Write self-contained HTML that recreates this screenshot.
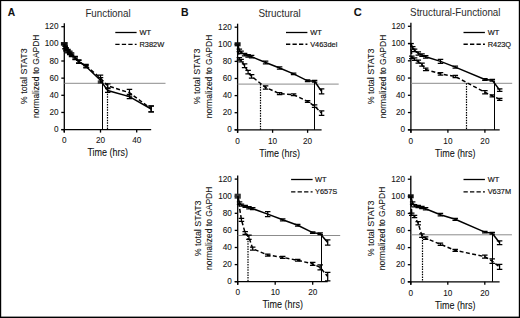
<!DOCTYPE html>
<html><head><meta charset="utf-8"><style>
html,body{margin:0;padding:0;background:#fff;}
body{width:520px;height:318px;overflow:hidden;}
svg{display:block;}
text{font-family:"Liberation Sans", sans-serif;fill:#111;stroke:#111;stroke-width:0.08px;}
</style></head><body>
<svg width="520" height="318" viewBox="0 0 520 318">
<rect x="0" y="0" width="520" height="318" fill="#fff"/>
<text x="7.7" y="15.5" font-size="11.4" font-weight="bold" textLength="7.4" lengthAdjust="spacingAndGlyphs">A</text>
<text x="181.1" y="15.6" font-size="11.4" font-weight="bold" textLength="7.6" lengthAdjust="spacingAndGlyphs">B</text>
<text x="353.7" y="15.7" font-size="11.4" font-weight="bold" textLength="8" lengthAdjust="spacingAndGlyphs">C</text>
<text x="108" y="16.5" text-anchor="middle" font-size="10.6" textLength="45.2" lengthAdjust="spacingAndGlyphs" style="fill:#2a2a2a;stroke:none">Functional</text>
<text x="279.6" y="16.6" text-anchor="middle" font-size="10.6" textLength="42.4" lengthAdjust="spacingAndGlyphs" style="fill:#2a2a2a;stroke:none">Structural</text>
<text x="455.3" y="16.4" text-anchor="middle" font-size="10.6" textLength="90.4" lengthAdjust="spacingAndGlyphs" style="fill:#2a2a2a;stroke:none">Structural-Functional</text>
<line x1="64.3" y1="23.2" x2="64.3" y2="132.6" stroke="#000" stroke-width="1.3"/>
<line x1="61.3" y1="129.6" x2="151.18" y2="129.6" stroke="#000" stroke-width="1.3"/>
<line x1="61.3" y1="129.6" x2="64.3" y2="129.6" stroke="#000" stroke-width="1.3"/>
<text x="58.5" y="132.2" text-anchor="end" font-size="8.9" textLength="4.56" lengthAdjust="spacingAndGlyphs">0</text>
<line x1="61.3" y1="112.45" x2="64.3" y2="112.45" stroke="#000" stroke-width="1.3"/>
<text x="58.5" y="115.05" text-anchor="end" font-size="8.9" textLength="9.12" lengthAdjust="spacingAndGlyphs">20</text>
<line x1="61.3" y1="95.3" x2="64.3" y2="95.3" stroke="#000" stroke-width="1.3"/>
<text x="58.5" y="97.9" text-anchor="end" font-size="8.9" textLength="9.12" lengthAdjust="spacingAndGlyphs">40</text>
<line x1="61.3" y1="78.15" x2="64.3" y2="78.15" stroke="#000" stroke-width="1.3"/>
<text x="58.5" y="80.75" text-anchor="end" font-size="8.9" textLength="9.12" lengthAdjust="spacingAndGlyphs">60</text>
<line x1="61.3" y1="61" x2="64.3" y2="61" stroke="#000" stroke-width="1.3"/>
<text x="58.5" y="63.6" text-anchor="end" font-size="8.9" textLength="9.12" lengthAdjust="spacingAndGlyphs">80</text>
<line x1="61.3" y1="43.85" x2="64.3" y2="43.85" stroke="#000" stroke-width="1.3"/>
<text x="58.5" y="46.45" text-anchor="end" font-size="8.9" textLength="13.68" lengthAdjust="spacingAndGlyphs">100</text>
<line x1="61.3" y1="26.7" x2="64.3" y2="26.7" stroke="#000" stroke-width="1.3"/>
<text x="58.5" y="29.3" text-anchor="end" font-size="8.9" textLength="13.68" lengthAdjust="spacingAndGlyphs">120</text>
<line x1="64.3" y1="129.6" x2="64.3" y2="132.6" stroke="#000" stroke-width="1.3"/>
<text x="64.3" y="143.3" text-anchor="middle" font-size="8.9" textLength="4.56" lengthAdjust="spacingAndGlyphs">0</text>
<line x1="100.5" y1="129.6" x2="100.5" y2="132.6" stroke="#000" stroke-width="1.3"/>
<text x="100.5" y="143.3" text-anchor="middle" font-size="8.9" textLength="9.12" lengthAdjust="spacingAndGlyphs">20</text>
<line x1="136.7" y1="129.6" x2="136.7" y2="132.6" stroke="#000" stroke-width="1.3"/>
<text x="136.7" y="143.3" text-anchor="middle" font-size="8.9" textLength="9.12" lengthAdjust="spacingAndGlyphs">40</text>
<text x="107.74" y="156.3" text-anchor="middle" font-size="10" textLength="40.6" lengthAdjust="spacingAndGlyphs">Time (hrs)</text>
<text transform="translate(27.1,76.25) rotate(-90)" text-anchor="middle" font-size="9.9" textLength="55.8" lengthAdjust="spacingAndGlyphs">% total STAT3</text>
<text transform="translate(38.9,76.25) rotate(-90)" text-anchor="middle" font-size="9.9" textLength="83.4" lengthAdjust="spacingAndGlyphs">normalized to GAPDH</text>
<line x1="237.6" y1="23.7" x2="237.6" y2="132.8" stroke="#000" stroke-width="1.3"/>
<line x1="234.6" y1="129.8" x2="321.6" y2="129.8" stroke="#000" stroke-width="1.3"/>
<line x1="234.6" y1="129.8" x2="237.6" y2="129.8" stroke="#000" stroke-width="1.3"/>
<text x="231.8" y="132.4" text-anchor="end" font-size="8.9" textLength="4.56" lengthAdjust="spacingAndGlyphs">0</text>
<line x1="234.6" y1="112.7" x2="237.6" y2="112.7" stroke="#000" stroke-width="1.3"/>
<text x="231.8" y="115.3" text-anchor="end" font-size="8.9" textLength="9.12" lengthAdjust="spacingAndGlyphs">20</text>
<line x1="234.6" y1="95.6" x2="237.6" y2="95.6" stroke="#000" stroke-width="1.3"/>
<text x="231.8" y="98.2" text-anchor="end" font-size="8.9" textLength="9.12" lengthAdjust="spacingAndGlyphs">40</text>
<line x1="234.6" y1="78.5" x2="237.6" y2="78.5" stroke="#000" stroke-width="1.3"/>
<text x="231.8" y="81.1" text-anchor="end" font-size="8.9" textLength="9.12" lengthAdjust="spacingAndGlyphs">60</text>
<line x1="234.6" y1="61.4" x2="237.6" y2="61.4" stroke="#000" stroke-width="1.3"/>
<text x="231.8" y="64" text-anchor="end" font-size="8.9" textLength="9.12" lengthAdjust="spacingAndGlyphs">80</text>
<line x1="234.6" y1="44.3" x2="237.6" y2="44.3" stroke="#000" stroke-width="1.3"/>
<text x="231.8" y="46.9" text-anchor="end" font-size="8.9" textLength="13.68" lengthAdjust="spacingAndGlyphs">100</text>
<line x1="234.6" y1="27.2" x2="237.6" y2="27.2" stroke="#000" stroke-width="1.3"/>
<text x="231.8" y="29.8" text-anchor="end" font-size="8.9" textLength="13.68" lengthAdjust="spacingAndGlyphs">120</text>
<line x1="237.6" y1="129.8" x2="237.6" y2="132.8" stroke="#000" stroke-width="1.3"/>
<text x="237.6" y="143.5" text-anchor="middle" font-size="8.9" textLength="4.56" lengthAdjust="spacingAndGlyphs">0</text>
<line x1="272.6" y1="129.8" x2="272.6" y2="132.8" stroke="#000" stroke-width="1.3"/>
<text x="272.6" y="143.5" text-anchor="middle" font-size="8.9" textLength="9.12" lengthAdjust="spacingAndGlyphs">10</text>
<line x1="307.6" y1="129.8" x2="307.6" y2="132.8" stroke="#000" stroke-width="1.3"/>
<text x="307.6" y="143.5" text-anchor="middle" font-size="8.9" textLength="9.12" lengthAdjust="spacingAndGlyphs">20</text>
<text x="279.6" y="156.5" text-anchor="middle" font-size="10" textLength="40.6" lengthAdjust="spacingAndGlyphs">Time (hrs)</text>
<text transform="translate(200.4,76.45) rotate(-90)" text-anchor="middle" font-size="9.9" textLength="55.8" lengthAdjust="spacingAndGlyphs">% total STAT3</text>
<text transform="translate(212.2,76.45) rotate(-90)" text-anchor="middle" font-size="9.9" textLength="83.4" lengthAdjust="spacingAndGlyphs">normalized to GAPDH</text>
<line x1="410.9" y1="22.8" x2="410.9" y2="132.8" stroke="#000" stroke-width="1.3"/>
<line x1="407.9" y1="129.8" x2="499.7" y2="129.8" stroke="#000" stroke-width="1.3"/>
<line x1="407.9" y1="129.8" x2="410.9" y2="129.8" stroke="#000" stroke-width="1.3"/>
<text x="405.1" y="132.4" text-anchor="end" font-size="8.9" textLength="4.56" lengthAdjust="spacingAndGlyphs">0</text>
<line x1="407.9" y1="112.55" x2="410.9" y2="112.55" stroke="#000" stroke-width="1.3"/>
<text x="405.1" y="115.15" text-anchor="end" font-size="8.9" textLength="9.12" lengthAdjust="spacingAndGlyphs">20</text>
<line x1="407.9" y1="95.3" x2="410.9" y2="95.3" stroke="#000" stroke-width="1.3"/>
<text x="405.1" y="97.9" text-anchor="end" font-size="8.9" textLength="9.12" lengthAdjust="spacingAndGlyphs">40</text>
<line x1="407.9" y1="78.05" x2="410.9" y2="78.05" stroke="#000" stroke-width="1.3"/>
<text x="405.1" y="80.65" text-anchor="end" font-size="8.9" textLength="9.12" lengthAdjust="spacingAndGlyphs">60</text>
<line x1="407.9" y1="60.8" x2="410.9" y2="60.8" stroke="#000" stroke-width="1.3"/>
<text x="405.1" y="63.4" text-anchor="end" font-size="8.9" textLength="9.12" lengthAdjust="spacingAndGlyphs">80</text>
<line x1="407.9" y1="43.55" x2="410.9" y2="43.55" stroke="#000" stroke-width="1.3"/>
<text x="405.1" y="46.15" text-anchor="end" font-size="8.9" textLength="13.68" lengthAdjust="spacingAndGlyphs">100</text>
<line x1="407.9" y1="26.3" x2="410.9" y2="26.3" stroke="#000" stroke-width="1.3"/>
<text x="405.1" y="28.9" text-anchor="end" font-size="8.9" textLength="13.68" lengthAdjust="spacingAndGlyphs">120</text>
<line x1="410.9" y1="129.8" x2="410.9" y2="132.8" stroke="#000" stroke-width="1.3"/>
<text x="410.9" y="143.5" text-anchor="middle" font-size="8.9" textLength="4.56" lengthAdjust="spacingAndGlyphs">0</text>
<line x1="447.9" y1="129.8" x2="447.9" y2="132.8" stroke="#000" stroke-width="1.3"/>
<text x="447.9" y="143.5" text-anchor="middle" font-size="8.9" textLength="9.12" lengthAdjust="spacingAndGlyphs">10</text>
<line x1="484.9" y1="129.8" x2="484.9" y2="132.8" stroke="#000" stroke-width="1.3"/>
<text x="484.9" y="143.5" text-anchor="middle" font-size="8.9" textLength="9.12" lengthAdjust="spacingAndGlyphs">20</text>
<text x="455.3" y="156.5" text-anchor="middle" font-size="10" textLength="40.6" lengthAdjust="spacingAndGlyphs">Time (hrs)</text>
<text transform="translate(373.7,76.45) rotate(-90)" text-anchor="middle" font-size="9.9" textLength="55.8" lengthAdjust="spacingAndGlyphs">% total STAT3</text>
<text transform="translate(385.5,76.45) rotate(-90)" text-anchor="middle" font-size="9.9" textLength="83.4" lengthAdjust="spacingAndGlyphs">normalized to GAPDH</text>
<line x1="237.7" y1="175.6" x2="237.7" y2="284.7" stroke="#000" stroke-width="1.3"/>
<line x1="234.7" y1="281.7" x2="327.7" y2="281.7" stroke="#000" stroke-width="1.3"/>
<line x1="234.7" y1="281.7" x2="237.7" y2="281.7" stroke="#000" stroke-width="1.3"/>
<text x="231.9" y="284.3" text-anchor="end" font-size="8.9" textLength="4.56" lengthAdjust="spacingAndGlyphs">0</text>
<line x1="234.7" y1="264.6" x2="237.7" y2="264.6" stroke="#000" stroke-width="1.3"/>
<text x="231.9" y="267.2" text-anchor="end" font-size="8.9" textLength="9.12" lengthAdjust="spacingAndGlyphs">20</text>
<line x1="234.7" y1="247.5" x2="237.7" y2="247.5" stroke="#000" stroke-width="1.3"/>
<text x="231.9" y="250.1" text-anchor="end" font-size="8.9" textLength="9.12" lengthAdjust="spacingAndGlyphs">40</text>
<line x1="234.7" y1="230.4" x2="237.7" y2="230.4" stroke="#000" stroke-width="1.3"/>
<text x="231.9" y="233" text-anchor="end" font-size="8.9" textLength="9.12" lengthAdjust="spacingAndGlyphs">60</text>
<line x1="234.7" y1="213.3" x2="237.7" y2="213.3" stroke="#000" stroke-width="1.3"/>
<text x="231.9" y="215.9" text-anchor="end" font-size="8.9" textLength="9.12" lengthAdjust="spacingAndGlyphs">80</text>
<line x1="234.7" y1="196.2" x2="237.7" y2="196.2" stroke="#000" stroke-width="1.3"/>
<text x="231.9" y="198.8" text-anchor="end" font-size="8.9" textLength="13.68" lengthAdjust="spacingAndGlyphs">100</text>
<line x1="234.7" y1="179.1" x2="237.7" y2="179.1" stroke="#000" stroke-width="1.3"/>
<text x="231.9" y="181.7" text-anchor="end" font-size="8.9" textLength="13.68" lengthAdjust="spacingAndGlyphs">120</text>
<line x1="237.7" y1="281.7" x2="237.7" y2="284.7" stroke="#000" stroke-width="1.3"/>
<text x="237.7" y="295.4" text-anchor="middle" font-size="8.9" textLength="4.56" lengthAdjust="spacingAndGlyphs">0</text>
<line x1="275.2" y1="281.7" x2="275.2" y2="284.7" stroke="#000" stroke-width="1.3"/>
<text x="275.2" y="295.4" text-anchor="middle" font-size="8.9" textLength="9.12" lengthAdjust="spacingAndGlyphs">10</text>
<line x1="312.7" y1="281.7" x2="312.7" y2="284.7" stroke="#000" stroke-width="1.3"/>
<text x="312.7" y="295.4" text-anchor="middle" font-size="8.9" textLength="9.12" lengthAdjust="spacingAndGlyphs">20</text>
<text x="282.7" y="308.4" text-anchor="middle" font-size="10" textLength="40.6" lengthAdjust="spacingAndGlyphs">Time (hrs)</text>
<text transform="translate(200.5,228.35) rotate(-90)" text-anchor="middle" font-size="9.9" textLength="55.8" lengthAdjust="spacingAndGlyphs">% total STAT3</text>
<text transform="translate(212.3,228.35) rotate(-90)" text-anchor="middle" font-size="9.9" textLength="83.4" lengthAdjust="spacingAndGlyphs">normalized to GAPDH</text>
<line x1="410.8" y1="175.7" x2="410.8" y2="284.8" stroke="#000" stroke-width="1.3"/>
<line x1="407.8" y1="281.8" x2="499.6" y2="281.8" stroke="#000" stroke-width="1.3"/>
<line x1="407.8" y1="281.8" x2="410.8" y2="281.8" stroke="#000" stroke-width="1.3"/>
<text x="405" y="284.4" text-anchor="end" font-size="8.9" textLength="4.56" lengthAdjust="spacingAndGlyphs">0</text>
<line x1="407.8" y1="264.7" x2="410.8" y2="264.7" stroke="#000" stroke-width="1.3"/>
<text x="405" y="267.3" text-anchor="end" font-size="8.9" textLength="9.12" lengthAdjust="spacingAndGlyphs">20</text>
<line x1="407.8" y1="247.6" x2="410.8" y2="247.6" stroke="#000" stroke-width="1.3"/>
<text x="405" y="250.2" text-anchor="end" font-size="8.9" textLength="9.12" lengthAdjust="spacingAndGlyphs">40</text>
<line x1="407.8" y1="230.5" x2="410.8" y2="230.5" stroke="#000" stroke-width="1.3"/>
<text x="405" y="233.1" text-anchor="end" font-size="8.9" textLength="9.12" lengthAdjust="spacingAndGlyphs">60</text>
<line x1="407.8" y1="213.4" x2="410.8" y2="213.4" stroke="#000" stroke-width="1.3"/>
<text x="405" y="216" text-anchor="end" font-size="8.9" textLength="9.12" lengthAdjust="spacingAndGlyphs">80</text>
<line x1="407.8" y1="196.3" x2="410.8" y2="196.3" stroke="#000" stroke-width="1.3"/>
<text x="405" y="198.9" text-anchor="end" font-size="8.9" textLength="13.68" lengthAdjust="spacingAndGlyphs">100</text>
<line x1="407.8" y1="179.2" x2="410.8" y2="179.2" stroke="#000" stroke-width="1.3"/>
<text x="405" y="181.8" text-anchor="end" font-size="8.9" textLength="13.68" lengthAdjust="spacingAndGlyphs">120</text>
<line x1="410.8" y1="281.8" x2="410.8" y2="284.8" stroke="#000" stroke-width="1.3"/>
<text x="410.8" y="295.5" text-anchor="middle" font-size="8.9" textLength="4.56" lengthAdjust="spacingAndGlyphs">0</text>
<line x1="447.8" y1="281.8" x2="447.8" y2="284.8" stroke="#000" stroke-width="1.3"/>
<text x="447.8" y="295.5" text-anchor="middle" font-size="8.9" textLength="9.12" lengthAdjust="spacingAndGlyphs">10</text>
<line x1="484.8" y1="281.8" x2="484.8" y2="284.8" stroke="#000" stroke-width="1.3"/>
<text x="484.8" y="295.5" text-anchor="middle" font-size="8.9" textLength="9.12" lengthAdjust="spacingAndGlyphs">20</text>
<text x="455.2" y="308.5" text-anchor="middle" font-size="10" textLength="40.6" lengthAdjust="spacingAndGlyphs">Time (hrs)</text>
<text transform="translate(373.6,228.45) rotate(-90)" text-anchor="middle" font-size="9.9" textLength="55.8" lengthAdjust="spacingAndGlyphs">% total STAT3</text>
<text transform="translate(385.4,228.45) rotate(-90)" text-anchor="middle" font-size="9.9" textLength="83.4" lengthAdjust="spacingAndGlyphs">normalized to GAPDH</text>
<line x1="64.3" y1="83.3" x2="165.5" y2="83.3" stroke="#8c8c8c" stroke-width="1"/>
<line x1="102.5" y1="81.3" x2="102.5" y2="129.6" stroke="#000" stroke-width="1.05"/>
<line x1="107.5" y1="83.3" x2="107.5" y2="129.6" stroke="#000" stroke-width="1.2" stroke-dasharray="1.5,1.1"/>
<line x1="237.6" y1="84.1" x2="338.7" y2="84.1" stroke="#8c8c8c" stroke-width="1"/>
<line x1="314.5" y1="82.1" x2="314.5" y2="129.8" stroke="#000" stroke-width="1.05"/>
<line x1="260.5" y1="84.1" x2="260.5" y2="129.8" stroke="#000" stroke-width="1.2" stroke-dasharray="1.5,1.1"/>
<line x1="410.9" y1="83.3" x2="512.2" y2="83.3" stroke="#8c8c8c" stroke-width="1"/>
<line x1="494.5" y1="81.3" x2="494.5" y2="129.8" stroke="#000" stroke-width="1.05"/>
<line x1="466.5" y1="83.3" x2="466.5" y2="129.8" stroke="#000" stroke-width="1.2" stroke-dasharray="1.5,1.1"/>
<line x1="237.7" y1="235.5" x2="340.2" y2="235.5" stroke="#8c8c8c" stroke-width="1"/>
<line x1="321.5" y1="233.5" x2="321.5" y2="281.7" stroke="#000" stroke-width="1.05"/>
<line x1="248" y1="235.5" x2="248" y2="281.7" stroke="#000" stroke-width="1.2" stroke-dasharray="1.5,1.1"/>
<line x1="410.8" y1="234.8" x2="511.9" y2="234.8" stroke="#8c8c8c" stroke-width="1"/>
<line x1="492.5" y1="232.8" x2="492.5" y2="281.8" stroke="#000" stroke-width="1.05"/>
<line x1="422.5" y1="234.8" x2="422.5" y2="281.8" stroke="#000" stroke-width="1.2" stroke-dasharray="1.5,1.1"/>
<rect x="60.9" y="42.05" width="6.8" height="3.6" fill="#111"/>
<rect x="234.6" y="42.25" width="6" height="4.1" fill="#111"/>
<rect x="234.6" y="193.7" width="6.2" height="5" fill="#333"/>
<rect x="407.9" y="194.3" width="5.8" height="4" fill="#111"/>
<line x1="408" y1="43.55" x2="413.8" y2="43.55" stroke="#000" stroke-width="1.3"/>
<polyline points="64.3,43.85 65.2,47.71 66.11,48.99 67.92,50.71 69.73,52.42 71.54,54.14 75.16,57.57 78.78,61.43 86.02,66.57 100.5,80.29 107.74,90.58 129.46,96.59 151.18,109.02" fill="none" stroke="#000" stroke-width="1.5"/>
<path d="M65.2,46.42V48.99M62.45,46.42H67.95M62.45,48.99H67.95" stroke="#000" stroke-width="1.25" fill="none"/>
<path d="M66.11,47.71V50.28M63.36,47.71H68.86M63.36,50.28H68.86" stroke="#000" stroke-width="1.25" fill="none"/>
<path d="M67.92,49.42V52M65.17,49.42H70.67M65.17,52H70.67" stroke="#000" stroke-width="1.25" fill="none"/>
<path d="M69.73,51.14V53.71M66.98,51.14H72.48M66.98,53.71H72.48" stroke="#000" stroke-width="1.25" fill="none"/>
<path d="M71.54,52.85V55.43M68.79,52.85H74.29M68.79,55.43H74.29" stroke="#000" stroke-width="1.25" fill="none"/>
<path d="M75.16,56.28V58.86M72.41,56.28H77.91M72.41,58.86H77.91" stroke="#000" stroke-width="1.25" fill="none"/>
<path d="M78.78,59.89V62.97M76.03,59.89H81.53M76.03,62.97H81.53" stroke="#000" stroke-width="1.25" fill="none"/>
<path d="M86.02,65.29V67.86M83.27,65.29H88.77M83.27,67.86H88.77" stroke="#000" stroke-width="1.25" fill="none"/>
<path d="M100.5,77.72V82.87M97.75,77.72H103.25M97.75,82.87H103.25" stroke="#000" stroke-width="1.25" fill="none"/>
<path d="M107.74,88.7V92.47M104.99,88.7H110.49M104.99,92.47H110.49" stroke="#000" stroke-width="1.25" fill="none"/>
<path d="M129.46,94.44V98.73M126.71,94.44H132.21M126.71,98.73H132.21" stroke="#000" stroke-width="1.25" fill="none"/>
<path d="M151.18,106.1V111.94M148.43,106.1H153.93M148.43,111.94H153.93" stroke="#000" stroke-width="1.25" fill="none"/>
<polyline points="64.3,43.85 65.2,47.28 66.11,49.85 67.92,51.57 69.73,53.28 71.54,55.43 75.16,58.43 78.78,61.86 86.02,65.72 100.5,78.15 107.74,85.87 129.46,92.73 151.18,108.76" fill="none" stroke="#000" stroke-width="1.5" stroke-dasharray="4,2.4"/>
<path d="M65.2,45.99V48.57M62.45,45.99H67.95M62.45,48.57H67.95" stroke="#000" stroke-width="1.25" fill="none"/>
<path d="M66.11,48.57V51.14M63.36,48.57H68.86M63.36,51.14H68.86" stroke="#000" stroke-width="1.25" fill="none"/>
<path d="M67.92,50.28V52.85M65.17,50.28H70.67M65.17,52.85H70.67" stroke="#000" stroke-width="1.25" fill="none"/>
<path d="M69.73,52V54.57M66.98,52H72.48M66.98,54.57H72.48" stroke="#000" stroke-width="1.25" fill="none"/>
<path d="M71.54,54.14V56.71M68.79,54.14H74.29M68.79,56.71H74.29" stroke="#000" stroke-width="1.25" fill="none"/>
<path d="M75.16,57.14V59.71M72.41,57.14H77.91M72.41,59.71H77.91" stroke="#000" stroke-width="1.25" fill="none"/>
<path d="M78.78,60.31V63.4M76.03,60.31H81.53M76.03,63.4H81.53" stroke="#000" stroke-width="1.25" fill="none"/>
<path d="M86.02,64.43V67M83.27,64.43H88.77M83.27,67H88.77" stroke="#000" stroke-width="1.25" fill="none"/>
<path d="M100.5,75.15V81.15M97.75,75.15H103.25M97.75,81.15H103.25" stroke="#000" stroke-width="1.25" fill="none"/>
<path d="M107.74,83.98V87.75M104.99,83.98H110.49M104.99,87.75H110.49" stroke="#000" stroke-width="1.25" fill="none"/>
<path d="M129.46,89.3V96.16M126.71,89.3H132.21M126.71,96.16H132.21" stroke="#000" stroke-width="1.25" fill="none"/>
<path d="M151.18,105.76V111.76M148.43,105.76H153.93M148.43,111.76H153.93" stroke="#000" stroke-width="1.25" fill="none"/>
<polyline points="237.6,44.3 239.35,50.29 241.1,52.42 244.6,54.56 248.1,55.84 251.6,56.7 265.6,62.51 279.6,67.98 293.6,73.88 307.6,80.81 314.6,81.24 321.6,91.33" fill="none" stroke="#000" stroke-width="1.5"/>
<path d="M239.35,49V51.57M236.6,49H242.1M236.6,51.57H242.1" stroke="#000" stroke-width="1.25" fill="none"/>
<path d="M241.1,51.14V53.71M238.35,51.14H243.85M238.35,53.71H243.85" stroke="#000" stroke-width="1.25" fill="none"/>
<path d="M244.6,53.28V55.84M241.85,53.28H247.35M241.85,55.84H247.35" stroke="#000" stroke-width="1.25" fill="none"/>
<path d="M248.1,54.56V57.13M245.35,54.56H250.85M245.35,57.13H250.85" stroke="#000" stroke-width="1.25" fill="none"/>
<path d="M251.6,55.42V57.98M248.85,55.42H254.35M248.85,57.98H254.35" stroke="#000" stroke-width="1.25" fill="none"/>
<path d="M265.6,61.23V63.79M262.85,61.23H268.35M262.85,63.79H268.35" stroke="#000" stroke-width="1.25" fill="none"/>
<path d="M279.6,66.96V69.01M276.85,66.96H282.35M276.85,69.01H282.35" stroke="#000" stroke-width="1.25" fill="none"/>
<path d="M293.6,73.03V74.74M290.85,73.03H296.35M290.85,74.74H296.35" stroke="#000" stroke-width="1.25" fill="none"/>
<path d="M307.6,79.95V81.66M304.85,79.95H310.35M304.85,81.66H310.35" stroke="#000" stroke-width="1.25" fill="none"/>
<path d="M314.6,80.38V82.09M311.85,80.38H317.35M311.85,82.09H317.35" stroke="#000" stroke-width="1.25" fill="none"/>
<path d="M321.6,88.76V93.89M318.85,88.76H324.35M318.85,93.89H324.35" stroke="#000" stroke-width="1.25" fill="none"/>
<polyline points="237.6,44.3 239.35,58.84 241.1,60.55 244.6,65.68 248.1,72.09 251.6,76.36 265.6,87.48 279.6,93.63 293.6,94.75 307.6,101.41 314.6,106.2 321.6,113.21" fill="none" stroke="#000" stroke-width="1.5" stroke-dasharray="4,2.4"/>
<path d="M239.35,57.55V60.12M236.6,57.55H242.1M236.6,60.12H242.1" stroke="#000" stroke-width="1.25" fill="none"/>
<path d="M241.1,59.26V61.83M238.35,59.26H243.85M238.35,61.83H243.85" stroke="#000" stroke-width="1.25" fill="none"/>
<path d="M244.6,63.79V67.56M241.85,63.79H247.35M241.85,67.56H247.35" stroke="#000" stroke-width="1.25" fill="none"/>
<path d="M248.1,70.38V73.8M245.35,70.38H250.85M245.35,73.8H250.85" stroke="#000" stroke-width="1.25" fill="none"/>
<path d="M251.6,74.65V78.07M248.85,74.65H254.35M248.85,78.07H254.35" stroke="#000" stroke-width="1.25" fill="none"/>
<path d="M265.6,85.94V89.02M262.85,85.94H268.35M262.85,89.02H268.35" stroke="#000" stroke-width="1.25" fill="none"/>
<path d="M279.6,92.61V94.66M276.85,92.61H282.35M276.85,94.66H282.35" stroke="#000" stroke-width="1.25" fill="none"/>
<path d="M293.6,93.89V95.6M290.85,93.89H296.35M290.85,95.6H296.35" stroke="#000" stroke-width="1.25" fill="none"/>
<path d="M307.6,100.56V102.27M304.85,100.56H310.35M304.85,102.27H310.35" stroke="#000" stroke-width="1.25" fill="none"/>
<path d="M314.6,104.92V107.48M311.85,104.92H317.35M311.85,107.48H317.35" stroke="#000" stroke-width="1.25" fill="none"/>
<path d="M321.6,110.99V115.44M318.85,110.99H324.35M318.85,115.44H324.35" stroke="#000" stroke-width="1.25" fill="none"/>
<polyline points="410.9,43.55 412.75,47.86 414.6,50.45 418.3,53.47 422,55.19 425.7,56.83 440.5,61.4 455.3,67.1 484.9,79.43 492.3,80.21 499.7,90.12" fill="none" stroke="#000" stroke-width="1.5"/>
<path d="M412.75,46.57V49.16M410,46.57H415.5M410,49.16H415.5" stroke="#000" stroke-width="1.25" fill="none"/>
<path d="M414.6,49.16V51.74M411.85,49.16H417.35M411.85,51.74H417.35" stroke="#000" stroke-width="1.25" fill="none"/>
<path d="M418.3,51.92V55.02M415.55,51.92H421.05M415.55,55.02H421.05" stroke="#000" stroke-width="1.25" fill="none"/>
<path d="M422,53.9V56.49M419.25,53.9H424.75M419.25,56.49H424.75" stroke="#000" stroke-width="1.25" fill="none"/>
<path d="M425.7,55.54V58.13M422.95,55.54H428.45M422.95,58.13H428.45" stroke="#000" stroke-width="1.25" fill="none"/>
<path d="M440.5,59.33V63.47M437.75,59.33H443.25M437.75,63.47H443.25" stroke="#000" stroke-width="1.25" fill="none"/>
<path d="M455.3,66.06V68.13M452.55,66.06H458.05M452.55,68.13H458.05" stroke="#000" stroke-width="1.25" fill="none"/>
<path d="M484.9,78.57V80.29M482.15,78.57H487.65M482.15,80.29H487.65" stroke="#000" stroke-width="1.25" fill="none"/>
<path d="M492.3,79.34V81.07M489.55,79.34H495.05M489.55,81.07H495.05" stroke="#000" stroke-width="1.25" fill="none"/>
<path d="M499.7,88.83V91.42M496.95,88.83H502.45M496.95,91.42H502.45" stroke="#000" stroke-width="1.25" fill="none"/>
<polyline points="410.9,43.55 411.82,57.35 414.6,59.08 418.3,61.66 422,64.68 425.7,69.43 440.5,73.91 455.3,76.5 484.9,92.28 492.3,95.82 499.7,99.35" fill="none" stroke="#000" stroke-width="1.5" stroke-dasharray="4,2.4"/>
<path d="M411.82,56.06V58.64M409.07,56.06H414.57M409.07,58.64H414.57" stroke="#000" stroke-width="1.25" fill="none"/>
<path d="M414.6,57.78V60.37M411.85,57.78H417.35M411.85,60.37H417.35" stroke="#000" stroke-width="1.25" fill="none"/>
<path d="M418.3,60.11V63.22M415.55,60.11H421.05M415.55,63.22H421.05" stroke="#000" stroke-width="1.25" fill="none"/>
<path d="M422,63.13V66.23M419.25,63.13H424.75M419.25,66.23H424.75" stroke="#000" stroke-width="1.25" fill="none"/>
<path d="M425.7,68.13V70.72M422.95,68.13H428.45M422.95,70.72H428.45" stroke="#000" stroke-width="1.25" fill="none"/>
<path d="M440.5,72.62V75.2M437.75,72.62H443.25M437.75,75.2H443.25" stroke="#000" stroke-width="1.25" fill="none"/>
<path d="M455.3,75.46V77.53M452.55,75.46H458.05M452.55,77.53H458.05" stroke="#000" stroke-width="1.25" fill="none"/>
<path d="M484.9,90.73V93.83M482.15,90.73H487.65M482.15,93.83H487.65" stroke="#000" stroke-width="1.25" fill="none"/>
<path d="M492.3,94.78V96.85M489.55,94.78H495.05M489.55,96.85H495.05" stroke="#000" stroke-width="1.25" fill="none"/>
<path d="M499.7,98.32V100.39M496.95,98.32H502.45M496.95,100.39H502.45" stroke="#000" stroke-width="1.25" fill="none"/>
<polyline points="237.7,196.2 239.57,203.04 241.45,205.18 245.2,206.46 248.95,207.74 252.7,208.6 267.7,214.15 282.7,219.8 297.7,225.27 312.7,232.62 320.2,233.73 327.7,242.54" fill="none" stroke="#000" stroke-width="1.5"/>
<path d="M239.57,201.76V204.32M236.82,201.76H242.32M236.82,204.32H242.32" stroke="#000" stroke-width="1.25" fill="none"/>
<path d="M241.45,204.15V206.2M238.7,204.15H244.2M238.7,206.2H244.2" stroke="#000" stroke-width="1.25" fill="none"/>
<path d="M245.2,205.43V207.49M242.45,205.43H247.95M242.45,207.49H247.95" stroke="#000" stroke-width="1.25" fill="none"/>
<path d="M248.95,206.72V208.77M246.2,206.72H251.7M246.2,208.77H251.7" stroke="#000" stroke-width="1.25" fill="none"/>
<path d="M252.7,207.57V209.62M249.95,207.57H255.45M249.95,209.62H255.45" stroke="#000" stroke-width="1.25" fill="none"/>
<path d="M267.7,211.59V216.72M264.95,211.59H270.45M264.95,216.72H270.45" stroke="#000" stroke-width="1.25" fill="none"/>
<path d="M282.7,218.77V220.82M279.95,218.77H285.45M279.95,220.82H285.45" stroke="#000" stroke-width="1.25" fill="none"/>
<path d="M297.7,224.41V226.12M294.95,224.41H300.45M294.95,226.12H300.45" stroke="#000" stroke-width="1.25" fill="none"/>
<path d="M312.7,231.77V233.48M309.95,231.77H315.45M309.95,233.48H315.45" stroke="#000" stroke-width="1.25" fill="none"/>
<path d="M320.2,232.88V234.59M317.45,232.88H322.95M317.45,234.59H322.95" stroke="#000" stroke-width="1.25" fill="none"/>
<path d="M327.7,239.98V245.11M324.95,239.98H330.45M324.95,245.11H330.45" stroke="#000" stroke-width="1.25" fill="none"/>
<polyline points="237.7,196.2 241.45,219.88 245.2,232.96 248.95,237.24 252.7,248.7 267.7,255.02 282.7,257.33 297.7,260.32 312.7,263.92 320.2,267.42 327.7,276.57" fill="none" stroke="#000" stroke-width="1.5" stroke-dasharray="4,2.4"/>
<path d="M241.45,218.34V221.42M238.7,218.34H244.2M238.7,221.42H244.2" stroke="#000" stroke-width="1.25" fill="none"/>
<path d="M245.2,231.68V234.25M242.45,231.68H247.95M242.45,234.25H247.95" stroke="#000" stroke-width="1.25" fill="none"/>
<path d="M248.95,235.1V239.38M246.2,235.1H251.7M246.2,239.38H251.7" stroke="#000" stroke-width="1.25" fill="none"/>
<path d="M252.7,247.16V250.24M249.95,247.16H255.45M249.95,250.24H255.45" stroke="#000" stroke-width="1.25" fill="none"/>
<path d="M267.7,254V256.05M264.95,254H270.45M264.95,256.05H270.45" stroke="#000" stroke-width="1.25" fill="none"/>
<path d="M282.7,256.31V258.36M279.95,256.31H285.45M279.95,258.36H285.45" stroke="#000" stroke-width="1.25" fill="none"/>
<path d="M297.7,259.47V261.18M294.95,259.47H300.45M294.95,261.18H300.45" stroke="#000" stroke-width="1.25" fill="none"/>
<path d="M312.7,262.38V265.45M309.95,262.38H315.45M309.95,265.45H315.45" stroke="#000" stroke-width="1.25" fill="none"/>
<path d="M320.2,264.86V269.99M317.45,264.86H322.95M317.45,269.99H322.95" stroke="#000" stroke-width="1.25" fill="none"/>
<path d="M327.7,272.3V280.84M324.95,272.3H330.45M324.95,280.84H330.45" stroke="#000" stroke-width="1.25" fill="none"/>
<polyline points="410.8,196.3 412.65,203.14 414.5,205.71 418.2,206.56 421.9,207.42 425.6,208.7 440.4,214.68 455.2,219.3 484.8,232.12 492.2,233.24 499.6,242.73" fill="none" stroke="#000" stroke-width="1.5"/>
<path d="M412.65,201.86V204.42M409.9,201.86H415.4M409.9,204.42H415.4" stroke="#000" stroke-width="1.25" fill="none"/>
<path d="M414.5,204.59V206.82M411.75,204.59H417.25M411.75,206.82H417.25" stroke="#000" stroke-width="1.25" fill="none"/>
<path d="M418.2,205.45V207.67M415.45,205.45H420.95M415.45,207.67H420.95" stroke="#000" stroke-width="1.25" fill="none"/>
<path d="M421.9,206.3V208.53M419.15,206.3H424.65M419.15,208.53H424.65" stroke="#000" stroke-width="1.25" fill="none"/>
<path d="M425.6,207.59V209.81M422.85,207.59H428.35M422.85,209.81H428.35" stroke="#000" stroke-width="1.25" fill="none"/>
<path d="M440.4,213.4V215.97M437.65,213.4H443.15M437.65,215.97H443.15" stroke="#000" stroke-width="1.25" fill="none"/>
<path d="M455.2,218.27V220.33M452.45,218.27H457.95M452.45,220.33H457.95" stroke="#000" stroke-width="1.25" fill="none"/>
<path d="M484.8,231.27V232.98M482.05,231.27H487.55M482.05,232.98H487.55" stroke="#000" stroke-width="1.25" fill="none"/>
<path d="M492.2,232.38V234.09M489.45,232.38H494.95M489.45,234.09H494.95" stroke="#000" stroke-width="1.25" fill="none"/>
<path d="M499.6,240.76V244.69M496.85,240.76H502.35M496.85,244.69H502.35" stroke="#000" stroke-width="1.25" fill="none"/>
<polyline points="410.8,196.3 411.73,214.25 414.5,216.39 418.2,223.23 421.9,235.63 425.6,238.2 440.4,244.27 455.2,250.34 484.8,256.66 492.2,261.11 499.6,266.92" fill="none" stroke="#000" stroke-width="1.5" stroke-dasharray="4,2.4"/>
<path d="M411.73,213.23V215.28M408.98,213.23H414.48M408.98,215.28H414.48" stroke="#000" stroke-width="1.25" fill="none"/>
<path d="M414.5,215.28V217.5M411.75,215.28H417.25M411.75,217.5H417.25" stroke="#000" stroke-width="1.25" fill="none"/>
<path d="M418.2,221.52V224.94M415.45,221.52H420.95M415.45,224.94H420.95" stroke="#000" stroke-width="1.25" fill="none"/>
<path d="M421.9,233.92V237.34M419.15,233.92H424.65M419.15,237.34H424.65" stroke="#000" stroke-width="1.25" fill="none"/>
<path d="M425.6,236.91V239.48M422.85,236.91H428.35M422.85,239.48H428.35" stroke="#000" stroke-width="1.25" fill="none"/>
<path d="M440.4,243.24V245.29M437.65,243.24H443.15M437.65,245.29H443.15" stroke="#000" stroke-width="1.25" fill="none"/>
<path d="M455.2,249.31V251.36M452.45,249.31H457.95M452.45,251.36H457.95" stroke="#000" stroke-width="1.25" fill="none"/>
<path d="M484.8,255.12V258.2M482.05,255.12H487.55M482.05,258.2H487.55" stroke="#000" stroke-width="1.25" fill="none"/>
<path d="M492.2,258.97V263.25M489.45,258.97H494.95M489.45,263.25H494.95" stroke="#000" stroke-width="1.25" fill="none"/>
<path d="M499.6,264.36V269.49M496.85,264.36H502.35M496.85,269.49H502.35" stroke="#000" stroke-width="1.25" fill="none"/>
<line x1="115.3" y1="32.5" x2="136.6" y2="32.5" stroke="#000" stroke-width="1.3"/>
<line x1="115.3" y1="44.4" x2="136.6" y2="44.4" stroke="#000" stroke-width="1.4" stroke-dasharray="4.3,2.2"/>
<text x="139.5" y="35" font-size="7.4" style="stroke-width:0.16px">WT</text>
<text x="139.5" y="46.9" font-size="7.4" style="stroke-width:0.16px">R382W</text>
<line x1="286" y1="32.5" x2="307.4" y2="32.5" stroke="#000" stroke-width="1.3"/>
<line x1="286" y1="44.3" x2="307.4" y2="44.3" stroke="#000" stroke-width="1.4" stroke-dasharray="4.3,2.2"/>
<text x="310.2" y="35" font-size="7.4" style="stroke-width:0.16px">WT</text>
<text x="310.2" y="46.8" font-size="7.4" style="stroke-width:0.16px">V463del</text>
<line x1="463.5" y1="32.5" x2="484.9" y2="32.5" stroke="#000" stroke-width="1.3"/>
<line x1="463.5" y1="44.3" x2="484.9" y2="44.3" stroke="#000" stroke-width="1.4" stroke-dasharray="4.3,2.2"/>
<text x="487.7" y="35" font-size="7.4" style="stroke-width:0.16px">WT</text>
<text x="487.7" y="46.8" font-size="7.4" style="stroke-width:0.16px">R423Q</text>
<line x1="291.1" y1="179.5" x2="312.6" y2="179.5" stroke="#000" stroke-width="1.3"/>
<line x1="291.1" y1="191.9" x2="312.6" y2="191.9" stroke="#000" stroke-width="1.4" stroke-dasharray="4.3,2.2"/>
<text x="315" y="182" font-size="7.4" style="stroke-width:0.16px">WT</text>
<text x="315" y="194.4" font-size="7.4" style="stroke-width:0.16px">Y657S</text>
<line x1="463.5" y1="179.5" x2="484.9" y2="179.5" stroke="#000" stroke-width="1.3"/>
<line x1="463.5" y1="191.9" x2="484.9" y2="191.9" stroke="#000" stroke-width="1.4" stroke-dasharray="4.3,2.2"/>
<text x="487.7" y="182" font-size="7.4" style="stroke-width:0.16px">WT</text>
<text x="487.7" y="194.4" font-size="7.4" style="stroke-width:0.16px">V637M</text>
<rect x="0" y="0" width="520" height="1.1" fill="#000"/>
<rect x="0" y="0" width="1.2" height="318" fill="#000"/>
<rect x="518.8" y="0" width="1.2" height="318" fill="#000"/>
<rect x="0" y="316.6" width="520" height="1.4" fill="#000"/>
</svg>
</body></html>
